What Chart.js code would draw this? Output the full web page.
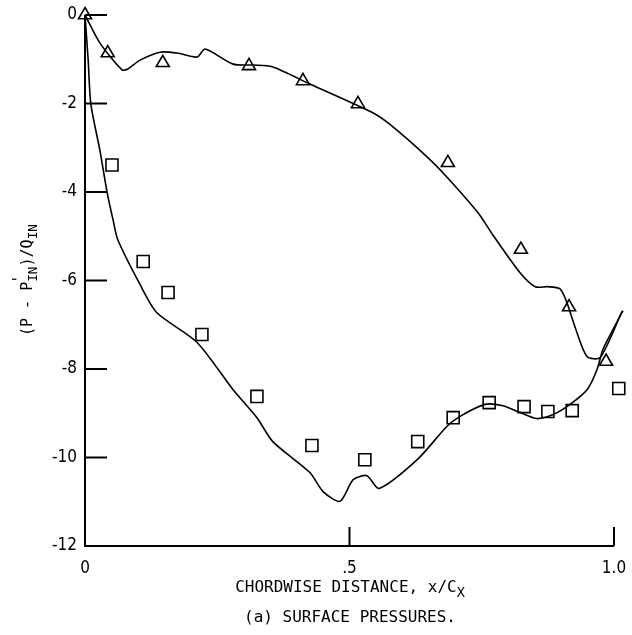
<!DOCTYPE html>
<html>
<head>
<meta charset="utf-8">
<script src="https://cdn.jsdelivr.net/npm/chart.js@4.4.0/dist/chart.umd.min.js"></script>
<style>
html,body{margin:0;padding:0;background:#fff}
#wrap{width:632px;height:635px;position:relative}
</style>
</head>
<body>
<div id="wrap"><canvas id="chart"></canvas></div>
<script>
// measured points (triangles and squares)
const triX = [0, 0.043, 0.147, 0.31, 0.412, 0.516, 0.686, 0.824, 0.915, 0.985];
const triY = [0, -0.86, -1.08, -1.15, -1.49, -2.01, -3.34, -5.30, -6.60, -7.83];
const sqX = [0.051, 0.110, 0.157, 0.221, 0.325, 0.429, 0.529, 0.629, 0.696, 0.764, 0.830, 0.875, 0.921, 1.009];
const sqY = [-3.39, -5.57, -6.27, -7.22, -8.62, -9.73, -10.05, -9.64, -9.10, -8.76, -8.85, -8.96, -8.94, -8.44];

// predicted curves
const upX = [0, 0.028, 0.070, 0.081, 0.104, 0.142, 0.174, 0.212, 0.227, 0.280, 0.318, 0.354, 0.425, 0.544, 0.577, 0.647, 0.684, 0.743, 0.771, 0.822, 0.851, 0.875, 0.898, 0.911, 0.926, 0.949, 0.974, 1.015];
const upY = [0, -0.63, -1.24, -1.22, -1.02, -0.84, -0.86, -0.95, -0.77, -1.11, -1.13, -1.17, -1.56, -2.21, -2.48, -3.21, -3.66, -4.47, -4.97, -5.82, -6.14, -6.14, -6.19, -6.50, -7.04, -7.72, -7.74, -6.70];
const loX = [0, 0.006, 0.011, 0.028, 0.042, 0.053, 0.062, 0.104, 0.136, 0.212, 0.280, 0.325, 0.355, 0.425, 0.450, 0.482, 0.507, 0.533, 0.556, 0.628, 0.684, 0.709, 0.756, 0.790, 0.822, 0.854, 0.885, 0.917, 0.949, 0.968, 0.979, 0.998, 1.017];
const loY = [0, -1.02, -2.01, -3.05, -4.02, -4.63, -5.08, -6.09, -6.73, -7.40, -8.47, -9.10, -9.64, -10.34, -10.77, -10.99, -10.50, -10.41, -10.70, -10.05, -9.30, -9.07, -8.80, -8.83, -8.98, -9.12, -9.03, -8.80, -8.47, -8.01, -7.56, -7.11, -6.68];

const xTicks = [0, 0.5, 1.0];
const xTickLabels = ['0', '.5', '1.0'];
const yTicks = [0, -2, -4, -6, -8, -10, -12];
const yTickLabels = ['0', '-2', '-4', '-6', '-8', '-10', '-12'];

const FONT = "'DejaVu Sans Condensed', 'Liberation Sans Narrow', sans-serif";
const MONO = "'DejaVu Sans Mono', 'Liberation Mono', monospace";
Chart.defaults.font.family = FONT;
Chart.defaults.color = '#000';

const pts = (xs, ys) => xs.map((x, i) => ({x, y: ys[i]}));

// draws a text made of pieces, some of them subscript
function richText(ctx, parts, cx, cy, size){
  const widths = parts.map(p => { ctx.font = (p.sub ? size*0.85 : size) + 'px ' + MONO; return ctx.measureText(p.t).width; });
  let x = cx - widths.reduce((a,b)=>a+b,0)/2;
  parts.forEach((p,i)=>{
    ctx.font = (p.sub ? size*0.85 : size) + 'px ' + MONO;
    ctx.fillText(p.t, x, cy + (p.sub ? size*0.35 : 0));
    if(p.prime){ ctx.font = size + 'px ' + MONO; ctx.fillText("'", x - 2, cy - size*0.5); }
    x += widths[i];
  });
}

const axesPlugin = {
  id: 'axes',
  afterDraw(chart){
    const {ctx, scales:{x, y}} = chart;
    const x0 = x.getPixelForValue(0), x1 = x.getPixelForValue(1);
    const yt = y.getPixelForValue(0), yb = y.getPixelForValue(-12);
    ctx.save();
    ctx.strokeStyle = '#000'; ctx.lineWidth = 2;
    ctx.beginPath();
    ctx.moveTo(x0, yt); ctx.lineTo(x0, yb); ctx.lineTo(x1, yb);
    yTicks.forEach(v => { const p = y.getPixelForValue(v); ctx.moveTo(x0, p); ctx.lineTo(x0 + 22, p); });
    [0.5, 1.0].forEach(v => { const p = x.getPixelForValue(v); ctx.moveTo(p, yb); ctx.lineTo(p, yb - 19); });
    ctx.stroke();

    ctx.fillStyle = '#000'; ctx.textBaseline = 'middle'; ctx.textAlign = 'left';
    richText(ctx, [{t:'CHORDWISE DISTANCE, x/C'}, {t:'X', sub:true}], 350, 588, 16);
    richText(ctx, [{t:'(a) SURFACE PRESSURES.'}], 350, 618, 16);

    ctx.translate(28, 280); ctx.rotate(-Math.PI/2);
    richText(ctx, [{t:'(P - P'}, {t:'IN', sub:true, prime:true}, {t:')/Q'}, {t:'IN', sub:true}], 0, 0, 15);
    ctx.restore();
  }
};

new Chart(document.getElementById('chart'), {
  type: 'scatter',
  data: {
    datasets: [
      {data: pts(upX, upY), showLine: true, pointRadius: 0, borderColor: '#000', borderWidth: 1.6, tension: 0.25, clip: false},
      {data: pts(loX, loY), showLine: true, pointRadius: 0, borderColor: '#000', borderWidth: 1.6, tension: 0.25, clip: false},
      {data: pts(triX, triY), pointStyle: 'triangle', pointRadius: 7.5, borderColor: '#000', backgroundColor: 'rgba(0,0,0,0)', borderWidth: 1.6, clip: false},
      {data: pts(sqX, sqY), pointStyle: 'rect', pointRadius: 8.5, borderColor: '#000', backgroundColor: 'rgba(0,0,0,0)', borderWidth: 1.6, clip: false}
    ]
  },
  options: {
    responsive: true, maintainAspectRatio: false, animation: false,
    layout: {padding: {top: 15, right: 18, left: 0, bottom: 0}},
    plugins: {legend: {display: false}, tooltip: {enabled: false}},
    scales: {
      x: {
        min: 0, max: 1,
        grid: {display: false, drawTicks: false}, border: {display: false},
        afterBuildTicks: s => { s.ticks = xTicks.map(v => ({value: v})); },
        afterFit: s => { s.height = 89; s.paddingLeft = 0; s.paddingRight = 0; },
        ticks: {padding: 12, font: {size: 17}, maxRotation: 0, callback: (v) => xTickLabels[xTicks.indexOf(v)]}
      },
      y: {
        min: -12, max: 0,
        grid: {display: false, drawTicks: false}, border: {display: false},
        afterBuildTicks: s => { s.ticks = yTicks.map(v => ({value: v})); },
        afterFit: s => { s.width = 85; s.paddingTop = 0; s.paddingBottom = 0; },
        ticks: {padding: 8, font: {size: 17}, callback: (v) => yTickLabels[yTicks.indexOf(v)]}
      }
    }
  },
  plugins: [axesPlugin]
});
</script>
</body>
</html>
